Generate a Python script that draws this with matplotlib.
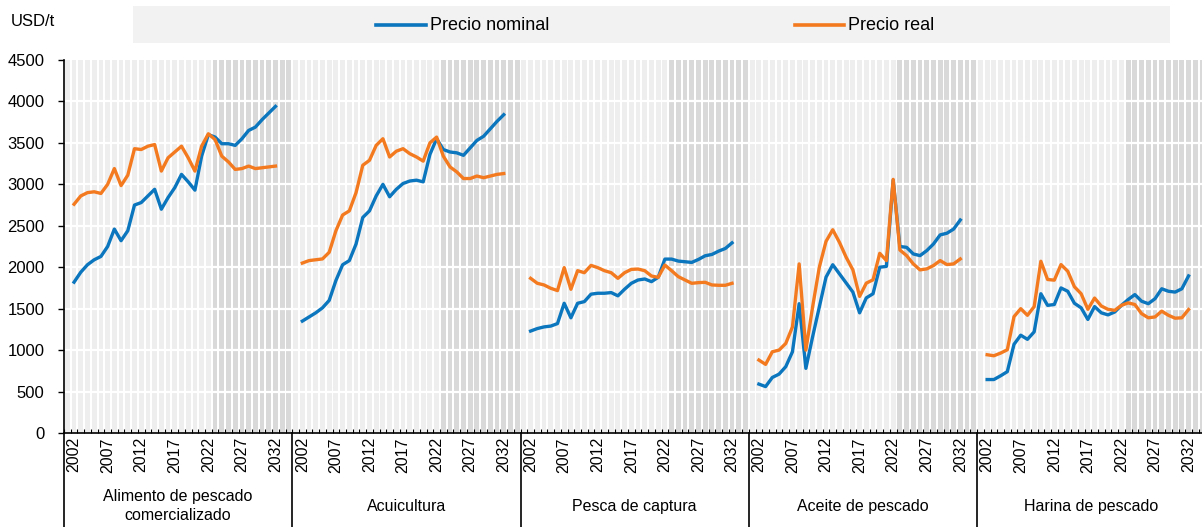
import matplotlib
matplotlib.use("Agg")
import matplotlib.pyplot as plt
from matplotlib.lines import Line2D
from matplotlib.patches import Rectangle
import numpy as np

plt.rcParams['font.family'] = ['Liberation Sans', 'DejaVu Sans']

# --- données (USD/t), 2002-2032 ---
annees = list(range(2002, 2033))
categories = ["Alimento de pescado\ncomercializado", "Acuicultura",
              "Pesca de captura", "Aceite de pescado", "Harina de pescado"]

nominal = [
    [1820, 1940, 2030, 2090, 2130, 2250, 2460, 2320, 2440, 2750, 2780, 2860, 2940, 2700, 2840,
     2960, 3120, 3030, 2930, 3340, 3600, 3570, 3490, 3490, 3470, 3550, 3650, 3690, 3780, 3860, 3940],
    [1350, 1400, 1450, 1510, 1600, 1840, 2030, 2080, 2280, 2600, 2680, 2860, 3000, 2850, 2940,
     3010, 3040, 3050, 3030, 3360, 3550, 3420, 3390, 3380, 3350, 3440, 3530, 3580, 3670, 3760, 3840],
    [1230, 1260, 1280, 1290, 1320, 1565, 1390, 1565, 1585, 1675, 1686, 1686, 1694, 1655, 1735,
     1806, 1846, 1858, 1826, 1878, 2098, 2098, 2074, 2066, 2058, 2094, 2138, 2154, 2194, 2226, 2294],
    [590, 560, 670, 710, 800, 980, 1560, 780, 1160, 1520, 1880, 2030, 1920, 1810, 1700,
     1450, 1630, 1680, 2000, 2010, 3050, 2250, 2240, 2160, 2140, 2200, 2280, 2390, 2410, 2460, 2570],
    [645, 645, 690, 740, 1070, 1180, 1130, 1220, 1680, 1540, 1550, 1750, 1710, 1565, 1510,
     1370, 1525, 1450, 1425, 1460, 1540, 1610, 1670, 1590, 1560, 1620, 1740, 1710, 1700, 1740, 1895],
]

reel = [
    [2760, 2860, 2900, 2910, 2890, 3000, 3190, 2985, 3110, 3430, 3420, 3460, 3480, 3160, 3320,
     3390, 3460, 3320, 3160, 3460, 3610, 3540, 3340, 3270, 3180, 3190, 3220, 3190, 3200, 3210, 3220],
    [2050, 2080, 2090, 2100, 2180, 2440, 2630, 2680, 2900, 3230, 3290, 3470, 3550, 3330, 3400,
     3430, 3370, 3330, 3280, 3500, 3570, 3340, 3210, 3150, 3070, 3070, 3100, 3080, 3100, 3120, 3130],
    [1866, 1806, 1786, 1746, 1718, 1995, 1734, 1958, 1934, 2022, 1995, 1958, 1934, 1866, 1934,
     1974, 1978, 1958, 1894, 1878, 2026, 1958, 1886, 1846, 1806, 1814, 1818, 1786, 1782, 1782, 1806],
    [880, 828, 980, 1000, 1080, 1280, 2040, 1000, 1520, 2000, 2312, 2452, 2300, 2120, 1968,
     1648, 1808, 1848, 2168, 2080, 3060, 2208, 2140, 2040, 1968, 1980, 2020, 2080, 2032, 2040, 2100],
    [944, 932, 964, 1004, 1404, 1500, 1420, 1524, 2072, 1852, 1844, 2032, 1952, 1764, 1680,
     1492, 1628, 1532, 1492, 1480, 1540, 1570, 1550, 1440, 1390, 1400, 1470, 1420, 1385, 1390, 1490],
]

bleu = '#0B76BD'
orange = '#F47A20'

# chaque groupe = 1 case vide + 31 années + 2 cases vides
n_cases = 34
n_groupes = len(categories)
debut_proj = 2023

fig = plt.figure(figsize=(12.02, 5.27), dpi=100)
ax = fig.add_axes([64 / 1202, (527 - 433) / 527, 1138 / 1202, 373 / 527])

# bandes de fond
cases = np.arange(n_cases * n_groupes)
rang = cases % n_cases
couleurs = ['#d9d9d9' if r >= 1 + (debut_proj - annees[0]) else '#eeeeee' for r in rang]
ax.bar(cases, 4500, width=0.72, color=couleurs, zorder=0)
for v in range(500, 4500, 500):
    ax.axhline(v, color='white', lw=1.6, zorder=1)

# séries
for g in range(n_groupes):
    x = g * n_cases + 1 + np.arange(len(annees))
    ax.plot(x, nominal[g], color=bleu, lw=2.4, zorder=3, solid_joinstyle='round')
    ax.plot(x, reel[g], color=orange, lw=2.4, zorder=3, solid_joinstyle='round')

ax.set_xlim(-0.5, 169.0)
ax.set_ylim(0, 4500)
ax.set_yticks(range(0, 4501, 500))
ax.tick_params(axis='y', direction='out', length=4, width=1, pad=10, labelsize=12)

pos_annees = []
lab_annees = []
for g in range(n_groupes):
    for i, a in enumerate(annees):
        if (a - 2002) % 5 == 0:
            pos_annees.append(g * n_cases + 1 + i)
            lab_annees.append(str(a))
ax.set_xticks(pos_annees)
ax.set_xticklabels(lab_annees, rotation=90, fontsize=11.5)
ax.tick_params(axis='x', which='major', length=0, pad=3)
ax.set_xticks(np.arange(len(cases)) - 0.5, minor=True)
ax.tick_params(axis='x', which='minor', direction='in', length=3, width=0.8)

for s in ['top', 'right']:
    ax.spines[s].set_visible(False)
ax.spines['left'].set_linewidth(1.2)
ax.spines['bottom'].set_linewidth(1.2)

# séparateurs et noms des catégories
tr = ax.get_xaxis_transform()
for g in range(n_groupes):
    ax.plot([g * n_cases - 0.5] * 2, [0, -0.26], color='black', lw=1.2,
            transform=tr, clip_on=False)
    ax.text(g * n_cases + 16.5, -0.196, categories[g], transform=tr,
            ha='center', va='center', fontsize=11.5, linespacing=1.35)

# légende
fig.add_artist(Rectangle((133 / 1202, 1 - 43 / 527), (1170 - 133) / 1202, 37 / 527,
                         transform=fig.transFigure, facecolor='#f2f2f2', edgecolor='none'))
y_leg = 1 - 25 / 527
fig.add_artist(Line2D([376 / 1202, 426 / 1202], [y_leg, y_leg], color=bleu, lw=2.6,
                      transform=fig.transFigure))
fig.text(430 / 1202, y_leg, "Precio nominal", fontsize=13, va='center')
fig.add_artist(Line2D([795 / 1202, 844 / 1202], [y_leg, y_leg], color=orange, lw=2.6,
                      transform=fig.transFigure))
fig.text(848 / 1202, y_leg, "Precio real", fontsize=13, va='center')

fig.text(11 / 1202, 1 - 21 / 527, "USD/t", fontsize=12, va='center')

fig.savefig("out.png", dpi=100)
